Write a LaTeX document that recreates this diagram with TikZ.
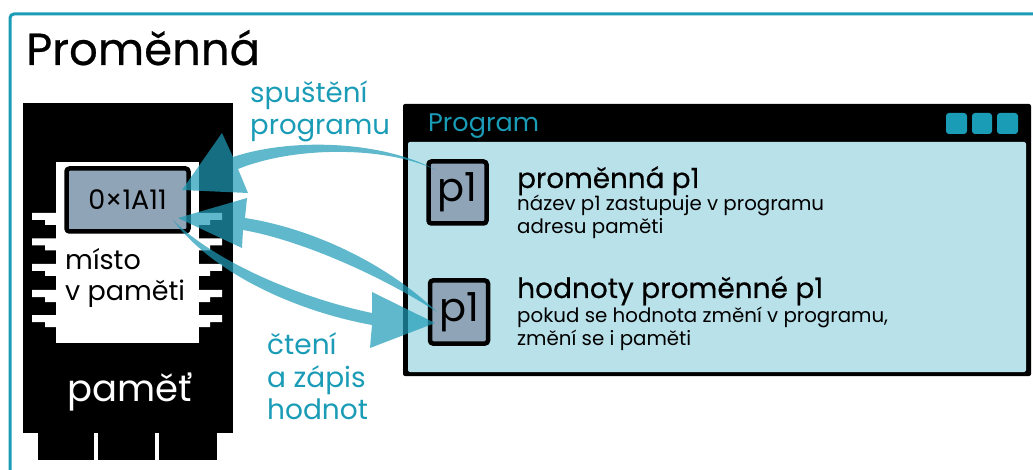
\documentclass[tikz,border=0pt]{standalone}
\usepackage{fontspec}
\setmainfont{Poppins}
\newfontfamily\heavyfont{Poppins}[FakeBold=0.5]
\definecolor{Lagoon}{RGB}{26,156,183}
\definecolor{FlowBlue}{RGB}{30,156,183}
\definecolor{PanelBlue}{RGB}{185,225,234}
\definecolor{SlotGray}{RGB}{144,164,184}
\usetikzlibrary{calc}
\tikzset{
  txt/.style={anchor=base west, inner sep=0pt, text=#1},
  txt/.default=black,
  slot/.style={draw=black, line width=4.5pt, fill=SlotGray, rounded corners=3pt, inner sep=0pt, text=black},
  flow/.style={fill=FlowBlue, opacity=0.71},
  winbtn/.style={fill=Lagoon, rounded corners=3pt},
}
\newcommand{\leftpin}[1]{\fill[white] (32,#1) -- (58,#1) -- (58,#1+12) -- (45,#1+12) -- (45,#1+7) -- (32,#1+7) -- cycle;}
\newcommand{\rightpin}[1]{\fill[white] (222,#1) -- (197,#1) -- (197,#1+12) -- (210,#1+12) -- (210,#1+7) -- (222,#1+7) -- cycle;}
\begin{document}
\begin{tikzpicture}[x=1pt,y=-1pt]
\useasboundingbox (0,0) rectangle (1033,470);
\fill[white] (0,0) rectangle (1033,470);
\draw[Lagoon, line width=3pt, rounded corners=4pt] (10,470) -- (10,14) -- (1033,14);
\node[txt, font=\heavyfont\fontsize{45}{45}\selectfont] (title) at (26,65) {Proměnná};
% pamet
\fill[black] (23,103) rectangle (233,433);
\fill[black] (38,433) rectangle (94,460);
\fill[black] (98,433) rectangle (155,460);
\fill[black] (159,433) rectangle (217,460);
\fill[white] (56,162) rectangle (199,343);
\foreach \pinY in {213,238.5,264,290,315} {\leftpin{\pinY} \rightpin{\pinY}}
\node[slot, minimum width=122pt, minimum height=63pt, font=\fontsize{27}{27}\selectfont] (addr) at (127.5,200) {0×1A11};
\node[txt, font=\fontsize{27}{27}\selectfont] (misto) at (65,270) {místo};
\node[txt, font=\fontsize{27}{27}\selectfont] (vpameti) at (65,301) {v paměti};
\node[txt=white, font=\fontsize{37}{37}\selectfont] (pamet) at (67,401) {paměť};
% program
\fill[black, rounded corners=2pt] (403,104) rectangle (1031,376);
\fill[PanelBlue, rounded corners=2pt] (408,142) rectangle (1026,372);
\node[txt=Lagoon, font=\fontsize{25.5}{25.5}\selectfont] (program) at (428,132) {Program};
\fill[winbtn] (946,113) rectangle (967,134);
\fill[winbtn] (972,113) rectangle (992,134);
\fill[winbtn] (997,113) rectangle (1018,134);
\node[slot, minimum width=58pt, minimum height=62pt, font=\fontsize{40}{40}\selectfont] (varname) at (457.5,192.5) {p1};
\node[slot, minimum width=58pt, minimum height=63pt, font=\fontsize{40}{40}\selectfont] (varvalue) at (459,312) {p1};
\node[txt, font=\heavyfont\fontsize{27.8}{27.8}\selectfont] (nameh) at (517,188) {proměnná p1};
\node[txt, font=\fontsize{19.8}{19.8}\selectfont] (namea) at (517,211) {název p1 zastupuje v programu};
\node[txt, font=\fontsize{19.8}{19.8}\selectfont] (nameb) at (517,234) {adresu paměti};
\node[txt, font=\heavyfont\fontsize{28}{28}\selectfont] (valueh) at (517,298) {hodnoty proměnné p1};
\node[txt, font=\fontsize{19.8}{19.8}\selectfont] (valuea) at (517,322) {pokud se hodnota změní v programu,};
\node[txt, font=\fontsize{19.8}{19.8}\selectfont] (valueb) at (517,345) {změní se i paměti};
% popisky
\node[txt=Lagoon, font=\fontsize{27.7}{27.7}\selectfont] (run) at (250,103) {spuštění};
\node[txt=Lagoon, font=\fontsize{27.5}{27.5}\selectfont] (runb) at (250,135) {programu};
\node[txt=Lagoon, font=\fontsize{28}{28}\selectfont] (rw) at (267,354) {čtení};
\node[txt=Lagoon, font=\fontsize{28}{28}\selectfont] (rwb) at (267,387) {a zápis};
\node[txt=Lagoon, font=\fontsize{28}{28}\selectfont] (rwc) at (267,419) {hodnot};
% sipky
\coordinate (nametail) at (436,170);
\coordinate (addrtipa) at (182,190);
\coordinate (valuetail) at (437,312);
\coordinate (addrtipb) at (178,218);
\coordinate (addrtail) at (173,220);
\coordinate (valuetip) at (435,323);
\fill[flow] (nametail) .. controls (380,140) and (290,138) .. (233,157) -- (222,133) -- (addrtipa)
  -- (248,193) -- (238,169) .. controls (295,146) and (385,146) .. (nametail) -- cycle;
\fill[flow] (valuetail) .. controls (385,262) and (310,228) .. (245,218) -- (247,198) -- (addrtipb)
  -- (242,248) -- (243,230) .. controls (300,240) and (380,275) .. (valuetail) -- cycle;
\fill[flow] (addrtail) .. controls (215,262) and (300,298) .. (372,313) -- (372,292) -- (valuetip)
  -- (370,348) -- (372,325) .. controls (290,310) and (210,270) .. (addrtail) -- cycle;
\end{tikzpicture}
\end{document}
